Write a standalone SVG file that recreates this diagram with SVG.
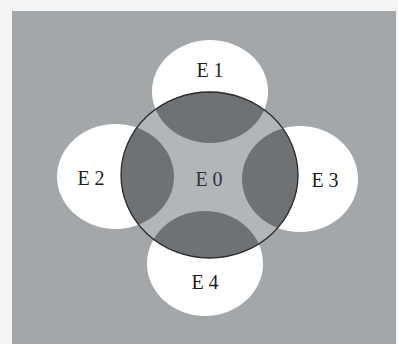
<svg xmlns="http://www.w3.org/2000/svg" width="398" height="344" viewBox="0 0 398 344">
<style>
.bg{fill:#a3a7aa}
.outer{fill:#ffffff}
.inner{fill:#b3b6b8}
.lap{fill:#6f7274}
.rim{fill:none;stroke:#2a2a2a;stroke-width:1.3}
.lbl{font-family:"Liberation Serif","Times New Roman",serif;font-size:20px;fill:#1e1e1e;text-anchor:middle}
</style>
<defs>
<clipPath id="c0"><ellipse cx="209.5" cy="175" rx="88.5" ry="83"/></clipPath>
</defs>
<rect width="398" height="344" fill="#f4f4f4"/>
<rect class="bg" x="12" y="11" width="384" height="333"/>
<g id="E1"><ellipse class="outer" cx="210" cy="91.5" rx="58" ry="51.5"/></g>
<g id="E2"><ellipse class="outer" cx="115.5" cy="176.5" rx="58.5" ry="52.5"/></g>
<g id="E3"><ellipse class="outer" cx="300" cy="179" rx="58" ry="53"/></g>
<g id="E4"><ellipse class="outer" cx="205" cy="263.5" rx="58" ry="52.5"/></g>
<g id="E0">
<ellipse class="inner" cx="209.5" cy="175" rx="88.5" ry="83"/>
<g clip-path="url(#c0)">
<ellipse class="lap" cx="210" cy="91.5" rx="58" ry="51.5"/>
<ellipse class="lap" cx="115.5" cy="176.5" rx="58.5" ry="52.5"/>
<ellipse class="lap" cx="300" cy="179" rx="58" ry="53"/>
<ellipse class="lap" cx="205" cy="263.5" rx="58" ry="52.5"/>
</g>
<ellipse class="rim" cx="209.5" cy="175" rx="88.5" ry="83"/>
</g>
<g id="labels">
<text class="lbl" x="210" y="77">E 1</text>
<text class="lbl" x="91" y="185">E 2</text>
<text class="lbl" x="209" y="186" style="fill:#333">E 0</text>
<text class="lbl" x="325" y="187">E 3</text>
<text class="lbl" x="205" y="289">E 4</text>
</g>
</svg>
